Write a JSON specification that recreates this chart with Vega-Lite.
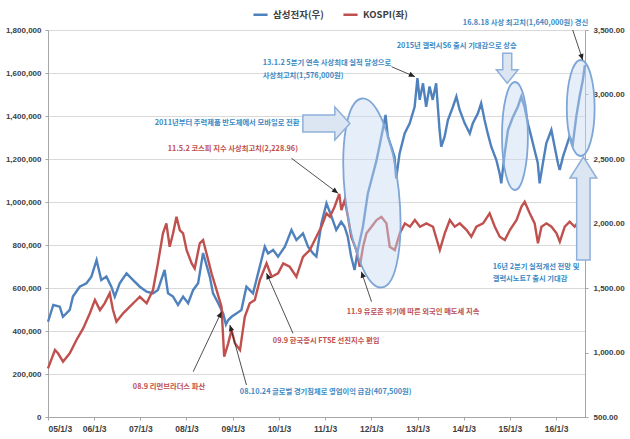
{
  "$schema": "https://vega.github.io/schema/vega-lite/v6.json",
  "width": 537,
  "height": 387,
  "autosize": {"type": "none"},
  "padding": {"left": 48, "top": 30, "right": 45, "bottom": 22},
  "background": "white",
  "config": {"view": {"stroke": null}, "font": "Noto Sans CJK KR"},
  "datasets": {
    "samsung": [
      {"date": "2005-01-03", "price": 443000}, {"date": "2005-02-14", "price": 521000}, {"date": "2005-04-06", "price": 513000},
      {"date": "2005-05-01", "price": 466000}, {"date": "2005-06-24", "price": 498000}, {"date": "2005-07-19", "price": 560000},
      {"date": "2005-09-11", "price": 606000}, {"date": "2005-11-03", "price": 622000}, {"date": "2005-12-12", "price": 653000},
      {"date": "2006-01-22", "price": 730000}, {"date": "2006-02-28", "price": 637000}, {"date": "2006-04-10", "price": 653000},
      {"date": "2006-05-19", "price": 606000}, {"date": "2006-06-15", "price": 560000}, {"date": "2006-07-24", "price": 622000},
      {"date": "2006-09-16", "price": 668000}, {"date": "2006-11-07", "price": 637000}, {"date": "2006-12-30", "price": 606000},
      {"date": "2007-02-22", "price": 583000}, {"date": "2007-04-13", "price": 575000}, {"date": "2007-05-22", "price": 591000},
      {"date": "2007-07-14", "price": 684000}, {"date": "2007-08-10", "price": 575000}, {"date": "2007-09-19", "price": 560000},
      {"date": "2007-10-28", "price": 521000}, {"date": "2007-12-07", "price": 560000}, {"date": "2008-01-16", "price": 529000},
      {"date": "2008-02-25", "price": 591000}, {"date": "2008-04-04", "price": 622000}, {"date": "2008-05-13", "price": 763000},
      {"date": "2008-07-05", "price": 653000}, {"date": "2008-07-31", "price": 575000}, {"date": "2008-09-10", "price": 529000},
      {"date": "2008-10-19", "price": 482000}, {"date": "2008-11-10", "price": 430000}, {"date": "2008-11-28", "price": 451000},
      {"date": "2008-12-24", "price": 466000}, {"date": "2009-02-03", "price": 482000}, {"date": "2009-03-12", "price": 498000},
      {"date": "2009-04-21", "price": 606000}, {"date": "2009-06-12", "price": 575000}, {"date": "2009-07-22", "price": 668000},
      {"date": "2009-09-13", "price": 792000}, {"date": "2009-10-09", "price": 761000}, {"date": "2009-11-18", "price": 777000},
      {"date": "2009-12-27", "price": 746000}, {"date": "2010-02-19", "price": 792000}, {"date": "2010-04-12", "price": 870000},
      {"date": "2010-05-21", "price": 823000}, {"date": "2010-07-12", "price": 854000}, {"date": "2010-08-21", "price": 792000},
      {"date": "2010-09-30", "price": 761000}, {"date": "2010-10-26", "price": 746000}, {"date": "2010-12-05", "price": 901000},
      {"date": "2011-01-14", "price": 994000}, {"date": "2011-02-23", "price": 932000}, {"date": "2011-04-01", "price": 870000},
      {"date": "2011-05-10", "price": 908000}, {"date": "2011-06-06", "price": 885000}, {"date": "2011-07-01", "price": 839000},
      {"date": "2011-07-28", "price": 746000}, {"date": "2011-08-24", "price": 684000}, {"date": "2011-09-19", "price": 777000},
      {"date": "2011-10-29", "price": 885000}, {"date": "2011-12-07", "price": 1040000}, {"date": "2012-01-03", "price": 1100000},
      {"date": "2012-02-12", "price": 1190000}, {"date": "2012-03-08", "price": 1260000}, {"date": "2012-04-04", "price": 1340000},
      {"date": "2012-04-25", "price": 1405000}, {"date": "2012-05-13", "price": 1304000}, {"date": "2012-06-09", "price": 1257000},
      {"date": "2012-07-05", "price": 1211000}, {"date": "2012-07-18", "price": 1110000}, {"date": "2012-08-14", "price": 1226000},
      {"date": "2012-09-23", "price": 1319000}, {"date": "2012-11-02", "price": 1366000}, {"date": "2012-12-11", "price": 1443000},
      {"date": "2013-01-02", "price": 1576000}, {"date": "2013-01-20", "price": 1475000}, {"date": "2013-02-15", "price": 1552000},
      {"date": "2013-03-12", "price": 1443000}, {"date": "2013-04-08", "price": 1537000}, {"date": "2013-05-03", "price": 1475000},
      {"date": "2013-05-30", "price": 1552000}, {"date": "2013-06-26", "price": 1335000}, {"date": "2013-07-09", "price": 1257000},
      {"date": "2013-08-05", "price": 1304000}, {"date": "2013-08-31", "price": 1381000}, {"date": "2013-10-10", "price": 1443000},
      {"date": "2013-11-06", "price": 1490000}, {"date": "2013-12-02", "price": 1428000}, {"date": "2014-01-11", "price": 1366000},
      {"date": "2014-02-20", "price": 1319000}, {"date": "2014-03-16", "price": 1366000}, {"date": "2014-04-25", "price": 1412000},
      {"date": "2014-05-21", "price": 1459000}, {"date": "2014-06-17", "price": 1381000}, {"date": "2014-07-12", "price": 1319000},
      {"date": "2014-08-09", "price": 1257000}, {"date": "2014-09-18", "price": 1195000}, {"date": "2014-10-14", "price": 1133000},
      {"date": "2014-10-27", "price": 1087000}, {"date": "2014-11-23", "price": 1226000}, {"date": "2014-12-19", "price": 1335000},
      {"date": "2015-01-28", "price": 1397000}, {"date": "2015-03-07", "price": 1443000}, {"date": "2015-04-03", "price": 1490000},
      {"date": "2015-04-29", "price": 1443000}, {"date": "2015-05-25", "price": 1366000}, {"date": "2015-06-21", "price": 1304000},
      {"date": "2015-07-17", "price": 1242000}, {"date": "2015-08-12", "price": 1180000}, {"date": "2015-08-26", "price": 1087000},
      {"date": "2015-09-21", "price": 1180000}, {"date": "2015-10-18", "price": 1273000}, {"date": "2015-11-27", "price": 1335000},
      {"date": "2015-12-23", "price": 1257000}, {"date": "2016-01-18", "price": 1180000}, {"date": "2016-02-01", "price": 1149000},
      {"date": "2016-02-27", "price": 1211000}, {"date": "2016-03-24", "price": 1257000}, {"date": "2016-04-19", "price": 1304000},
      {"date": "2016-05-15", "price": 1273000}, {"date": "2016-06-11", "price": 1397000}, {"date": "2016-07-07", "price": 1490000},
      {"date": "2016-08-02", "price": 1567000}, {"date": "2016-08-18", "price": 1637000}
    ],
    "kospi": [
      {"date": "2005-01-03", "kospi": 877}, {"date": "2005-02-27", "kospi": 1019}, {"date": "2005-03-23", "kospi": 994},
      {"date": "2005-05-02", "kospi": 929}, {"date": "2005-06-24", "kospi": 994}, {"date": "2005-08-16", "kospi": 1097},
      {"date": "2005-10-08", "kospi": 1187}, {"date": "2005-11-30", "kospi": 1304}, {"date": "2006-01-09", "kospi": 1407},
      {"date": "2006-02-18", "kospi": 1329}, {"date": "2006-03-27", "kospi": 1381}, {"date": "2006-05-06", "kospi": 1459},
      {"date": "2006-06-01", "kospi": 1329}, {"date": "2006-06-28", "kospi": 1239}, {"date": "2006-08-20", "kospi": 1304},
      {"date": "2006-10-12", "kospi": 1355}, {"date": "2006-12-04", "kospi": 1407}, {"date": "2006-12-30", "kospi": 1432},
      {"date": "2007-02-22", "kospi": 1381}, {"date": "2007-04-13", "kospi": 1484}, {"date": "2007-05-22", "kospi": 1691},
      {"date": "2007-07-01", "kospi": 1924}, {"date": "2007-07-28", "kospi": 2001}, {"date": "2007-08-23", "kospi": 1820},
      {"date": "2007-09-19", "kospi": 1924}, {"date": "2007-10-16", "kospi": 2052}, {"date": "2007-11-11", "kospi": 1949},
      {"date": "2007-12-07", "kospi": 1924}, {"date": "2008-01-04", "kospi": 1794}, {"date": "2008-02-13", "kospi": 1691},
      {"date": "2008-03-08", "kospi": 1652}, {"date": "2008-04-17", "kospi": 1846}, {"date": "2008-05-13", "kospi": 1872},
      {"date": "2008-06-09", "kospi": 1769}, {"date": "2008-07-19", "kospi": 1614}, {"date": "2008-08-28", "kospi": 1484},
      {"date": "2008-10-06", "kospi": 1355}, {"date": "2008-10-27", "kospi": 967}, {"date": "2008-11-28", "kospi": 1071},
      {"date": "2008-12-24", "kospi": 1174}, {"date": "2009-01-20", "kospi": 1071}, {"date": "2009-03-01", "kospi": 1019},
      {"date": "2009-04-08", "kospi": 1277}, {"date": "2009-05-17", "kospi": 1381}, {"date": "2009-06-26", "kospi": 1407},
      {"date": "2009-08-05", "kospi": 1562}, {"date": "2009-09-27", "kospi": 1691}, {"date": "2009-11-06", "kospi": 1587},
      {"date": "2009-12-27", "kospi": 1614}, {"date": "2010-02-06", "kospi": 1691}, {"date": "2010-03-29", "kospi": 1665},
      {"date": "2010-05-21", "kospi": 1587}, {"date": "2010-07-12", "kospi": 1742}, {"date": "2010-09-04", "kospi": 1794},
      {"date": "2010-10-26", "kospi": 1897}, {"date": "2010-12-05", "kospi": 1975}, {"date": "2011-01-14", "kospi": 2079},
      {"date": "2011-02-10", "kospi": 2052}, {"date": "2011-03-19", "kospi": 2130}, {"date": "2011-04-25", "kospi": 2229},
      {"date": "2011-05-12", "kospi": 2104}, {"date": "2011-06-07", "kospi": 2182}, {"date": "2011-07-03", "kospi": 2052},
      {"date": "2011-07-29", "kospi": 1897}, {"date": "2011-09-08", "kospi": 1794}, {"date": "2011-10-04", "kospi": 1665},
      {"date": "2011-10-30", "kospi": 1820}, {"date": "2011-11-26", "kospi": 1924}, {"date": "2012-01-05", "kospi": 1975},
      {"date": "2012-02-14", "kospi": 2027}, {"date": "2012-03-23", "kospi": 2052}, {"date": "2012-05-02", "kospi": 2001},
      {"date": "2012-05-28", "kospi": 1820}, {"date": "2012-07-07", "kospi": 1794}, {"date": "2012-08-16", "kospi": 1924},
      {"date": "2012-09-25", "kospi": 2001}, {"date": "2012-11-04", "kospi": 1975}, {"date": "2012-12-13", "kospi": 2027},
      {"date": "2013-01-22", "kospi": 1975}, {"date": "2013-03-14", "kospi": 2001}, {"date": "2013-05-05", "kospi": 1975},
      {"date": "2013-06-28", "kospi": 1794}, {"date": "2013-08-06", "kospi": 1924}, {"date": "2013-09-15", "kospi": 2027},
      {"date": "2013-10-24", "kospi": 1975}, {"date": "2013-12-03", "kospi": 2001}, {"date": "2014-01-26", "kospi": 1949},
      {"date": "2014-03-04", "kospi": 1897}, {"date": "2014-04-13", "kospi": 1975}, {"date": "2014-06-05", "kospi": 2001},
      {"date": "2014-07-27", "kospi": 2079}, {"date": "2014-09-06", "kospi": 1975}, {"date": "2014-10-15", "kospi": 1897},
      {"date": "2014-11-24", "kospi": 1872}, {"date": "2015-01-03", "kospi": 1949}, {"date": "2015-02-25", "kospi": 2027},
      {"date": "2015-04-04", "kospi": 2130}, {"date": "2015-04-30", "kospi": 2169}, {"date": "2015-06-09", "kospi": 2079},
      {"date": "2015-07-18", "kospi": 2001}, {"date": "2015-08-13", "kospi": 1846}, {"date": "2015-09-10", "kospi": 1975},
      {"date": "2015-10-19", "kospi": 2001}, {"date": "2015-11-28", "kospi": 1975}, {"date": "2016-01-07", "kospi": 1924},
      {"date": "2016-02-02", "kospi": 1859}, {"date": "2016-03-12", "kospi": 1975}, {"date": "2016-04-20", "kospi": 2014},
      {"date": "2016-05-29", "kospi": 1975}, {"date": "2016-07-08", "kospi": 2027}, {"date": "2016-08-18", "kospi": 2052}
    ],
    "notes": [
      {"label": "13.1.2 5분기 연속 사상최대 실적 달성으로", "date": "2009-08-28", "value": 1646500, "kind": "blue"},
      {"label": "사상최고치(1,576,000원)", "date": "2009-08-28", "value": 1586000, "kind": "blue"},
      {"label": "16.8.18 사상 최고치(1,640,000원) 경신", "date": "2013-12-27", "value": 1832600, "kind": "blue"},
      {"label": "2015년 갤럭시S6 출시 기대감으로 상승", "date": "2012-07-23", "value": 1725600, "kind": "blue"},
      {"label": "2011년부터 주력제품 반도체에서 모바일로 전환", "date": "2007-04-27", "value": 1367400, "kind": "blue"},
      {"label": "11.5.2 코스피 지수 사상최고치(2,228.96)", "date": "2007-08-08", "value": 1246500, "kind": "red"},
      {"label": "11.9 유로존 위기에 따른 외국인 매도세 지속", "date": "2011-06-23", "value": 488400, "kind": "red"},
      {"label": "09.9 한국증시 FTSE 선진지수 편입", "date": "2009-11-16", "value": 353500, "kind": "red"},
      {"label": "08.9 리먼브라더스 파산", "date": "2006-11-05", "value": 139500, "kind": "red"},
      {"label": "08.10.24 글로벌 경기침체로 영업이익 급감(407,500원)", "date": "2009-02-28", "value": 116300, "kind": "blue"},
      {"label": "16년 2분기 실적개선 전망 및", "date": "2014-08-20", "value": 697700, "kind": "blue"},
      {"label": "갤럭시노트7 출시 기대감", "date": "2014-08-20", "value": 641900, "kind": "blue"}
    ],
    "arrows": [
      {"id": 1, "date": "2012-06-11", "value": 1629300, "date2": "2012-12-13", "value2": 1582800},
      {"id": 2, "date": "2016-05-14", "value": 1800000, "date2": "2016-08-01", "value2": 1660500},
      {"id": 3, "date": "2010-04-12", "value": 1203300, "date2": "2011-04-15", "value2": 1040500},
      {"id": 4, "date": "2012-01-05", "value": 536300, "date2": "2011-10-17", "value2": 675800},
      {"id": 5, "date": "2010-04-24", "value": 389300, "date2": "2009-09-27", "value2": 668400},
      {"id": 6, "date": "2008-02-25", "value": 210700, "date2": "2008-10-06", "value2": 489800},
      {"id": 7, "date": "2009-04-21", "value": 148800, "date2": "2008-12-11", "value2": 427900}
    ],
    "shapes": [
      {"name": "e1", "date": "2012-01-08", "value": 1041900},
      {"name": "e2", "date": "2015-02-12", "value": 1307000},
      {"name": "e3", "date": "2016-07-16", "value": 1437200},
      {"name": "right", "date": "2011-01-13", "value": 1365100},
      {"name": "down", "date": "2014-12-13", "value": 1621900},
      {"name": "up", "date": "2016-08-06", "value": 969800}
    ]
  },
  "layer": [
    {
      "data": {"name": "samsung"},
      "mark": {"type": "line", "strokeWidth": 2.4},
      "encoding": {
        "x": {
          "field": "date", "type": "temporal",
          "scale": {"type": "utc", "domain": ["2005-01-03", "2016-08-19"], "nice": false},
          "axis": {
            "title": null, "grid": false,
            "labelExpr": "utcFormat(datum.value, '%y/%-m/%-d')",
            "values": ["2005-01-03", "2006-01-03", "2007-01-03", "2008-01-03", "2009-01-03", "2010-01-03", "2011-01-03", "2012-01-03", "2013-01-03", "2014-01-03", "2015-01-03", "2016-01-03"],
            "labelFont": "Liberation Sans", "labelFontSize": 8.5, "labelFontWeight": "bold", "labelColor": "#404040",
            "domainColor": "#a6a6a6", "tickColor": "#a6a6a6", "tickSize": 3, "labelPadding": 4
          }
        },
        "y": {
          "field": "price", "type": "quantitative",
          "scale": {"domain": [0, 1800000], "nice": false},
          "axis": {
            "title": null, "orient": "left", "format": ",d",
            "values": [0, 200000, 400000, 600000, 800000, 1000000, 1200000, 1400000, 1600000, 1800000],
            "grid": true, "gridColor": "#d9d9d9", "domainColor": "#a6a6a6", "tickColor": "#a6a6a6", "tickSize": 3,
            "labelPadding": 4, "labelFont": "Liberation Sans", "labelFontSize": 8, "labelFontWeight": "bold", "labelColor": "#404040"
          }
        },
        "color": {
          "datum": "삼성전자(우)", "type": "nominal",
          "scale": {"domain": ["삼성전자(우)", "KOSPI(좌)"], "range": ["#4f81bd", "#c0504d"]},
          "legend": {
            "title": null, "orient": "none", "legendX": 204, "legendY": -24, "direction": "horizontal",
            "symbolType": "stroke", "symbolSize": 200, "symbolStrokeWidth": 2.5, "labelFontSize": 9.5,
            "labelFontWeight": "bold", "labelColor": "#404040", "columnPadding": 14
          }
        }
      }
    },
    {
      "data": {"name": "kospi"},
      "mark": {"type": "line", "strokeWidth": 2.4},
      "encoding": {
        "x": {"field": "date", "type": "temporal"},
        "y": {
          "field": "kospi", "type": "quantitative",
          "scale": {"domain": [500, 3500], "nice": false},
          "axis": {
            "title": null, "orient": "right", "format": ",.2f", "grid": false,
            "values": [500, 1000, 1500, 2000, 2500, 3000, 3500],
            "domainColor": "#a6a6a6", "tickColor": "#a6a6a6", "tickSize": 3, "labelPadding": 5,
            "labelFont": "Liberation Sans", "labelFontSize": 8, "labelFontWeight": "bold", "labelColor": "#404040"
          }
        },
        "color": {"datum": "KOSPI(좌)", "type": "nominal"}
      }
    },
    {
      "layer": [
        {
          "data": {"name": "shapes"}, "transform": [{"filter": "datum.name == 'e1'"}],
          "mark": {"type": "point", "filled": true, "shape": "M0,-1 A0.284,1 0 1,1 0,1 A0.284,1 0 1,1 0,-1 Z", "size": 36100, "angle": -6, "fill": "#c6d9f1", "fillOpacity": 0.45, "stroke": "#7ea6d6", "strokeWidth": 1.8, "strokeOpacity": 1},
          "encoding": {
            "x": {"field": "date", "type": "temporal"},
            "y": {"field": "value", "type": "quantitative", "scale": {"domain": [0, 1800000], "nice": false}, "axis": null}
          }
        },
        {
          "data": {"name": "shapes"}, "transform": [{"filter": "datum.name == 'e2'"}],
          "mark": {"type": "point", "filled": true, "shape": "M0,-1 A0.24,1 0 1,1 0,1 A0.24,1 0 1,1 0,-1 Z", "size": 11664, "fill": "#c6d9f1", "fillOpacity": 0.45, "stroke": "#7ea6d6", "strokeWidth": 1.8, "strokeOpacity": 1},
          "encoding": {"x": {"field": "date", "type": "temporal"}, "y": {"field": "value", "type": "quantitative", "axis": null}}
        },
        {
          "data": {"name": "shapes"}, "transform": [{"filter": "datum.name == 'e3'"}],
          "mark": {"type": "point", "filled": true, "shape": "M0,-1 A0.29,1 0 1,1 0,1 A0.29,1 0 1,1 0,-1 Z", "size": 9216, "fill": "#c6d9f1", "fillOpacity": 0.45, "stroke": "#7ea6d6", "strokeWidth": 1.8, "strokeOpacity": 1},
          "encoding": {"x": {"field": "date", "type": "temporal"}, "y": {"field": "value", "type": "quantitative", "axis": null}}
        },
        {
          "data": {"name": "shapes"}, "transform": [{"filter": "datum.name == 'right'"}],
          "mark": {"type": "point", "filled": true, "shape": "M-1,-0.36 L0.36,-0.36 L0.36,-0.7 L1,0 L0.36,0.7 L0.36,0.36 L-1,0.36 Z", "size": 2209, "fill": "#dce6f2", "fillOpacity": 1, "stroke": "#8eb0da", "strokeWidth": 1.5, "strokeOpacity": 1},
          "encoding": {"x": {"field": "date", "type": "temporal"}, "y": {"field": "value", "type": "quantitative", "axis": null}}
        },
        {
          "data": {"name": "shapes"}, "transform": [{"filter": "datum.name == 'down'"}],
          "mark": {"type": "point", "filled": true, "shape": "M-0.3,-1 L0.3,-1 L0.3,0.1 L0.72,0.1 L0,1 L-0.72,0.1 L-0.3,0.1 Z", "size": 900, "fill": "#dce6f2", "fillOpacity": 1, "stroke": "#8eb0da", "strokeWidth": 1.5, "strokeOpacity": 1},
          "encoding": {"x": {"field": "date", "type": "temporal"}, "y": {"field": "value", "type": "quantitative", "axis": null}}
        },
        {
          "data": {"name": "shapes"}, "transform": [{"filter": "datum.name == 'up'"}],
          "mark": {"type": "point", "filled": true, "shape": "M0,-1 L0.26,-0.59 L0.13,-0.59 L0.13,1 L-0.13,1 L-0.13,-0.59 L-0.26,-0.59 Z", "size": 10609, "fill": "#dce6f2", "fillOpacity": 1, "stroke": "#8eb0da", "strokeWidth": 1.5, "strokeOpacity": 1},
          "encoding": {"x": {"field": "date", "type": "temporal"}, "y": {"field": "value", "type": "quantitative", "axis": null}}
        },
        {
          "data": {"name": "arrows"},
          "mark": {"type": "rule", "color": "#222222", "strokeWidth": 0.8},
          "encoding": {
            "x": {"field": "date", "type": "temporal"}, "y": {"field": "value", "type": "quantitative", "axis": null},
            "x2": {"field": "date2"}, "y2": {"field": "value2"}
          }
        },
        {
          "data": {"name": "arrows"}, "transform": [{"filter": "datum.id == 1"}],
          "mark": {"type": "point", "filled": true, "shape": "M0,0 L-0.45,1 L0.45,1 Z", "size": 144, "angle": 113, "color": "#222222", "opacity": 1},
          "encoding": {"x": {"field": "date2", "type": "temporal"}, "y": {"field": "value2", "type": "quantitative", "axis": null}}
        },
        {
          "data": {"name": "arrows"}, "transform": [{"filter": "datum.id == 2"}],
          "mark": {"type": "point", "filled": true, "shape": "M0,0 L-0.45,1 L0.45,1 Z", "size": 144, "angle": 162, "color": "#222222", "opacity": 1},
          "encoding": {"x": {"field": "date2", "type": "temporal"}, "y": {"field": "value2", "type": "quantitative", "axis": null}}
        },
        {
          "data": {"name": "arrows"}, "transform": [{"filter": "datum.id == 3"}],
          "mark": {"type": "point", "filled": true, "shape": "M0,0 L-0.45,1 L0.45,1 Z", "size": 144, "angle": 127, "color": "#222222", "opacity": 1},
          "encoding": {"x": {"field": "date2", "type": "temporal"}, "y": {"field": "value2", "type": "quantitative", "axis": null}}
        },
        {
          "data": {"name": "arrows"}, "transform": [{"filter": "datum.id == 4"}],
          "mark": {"type": "point", "filled": true, "shape": "M0,0 L-0.45,1 L0.45,1 Z", "size": 144, "angle": -18, "color": "#222222", "opacity": 1},
          "encoding": {"x": {"field": "date2", "type": "temporal"}, "y": {"field": "value2", "type": "quantitative", "axis": null}}
        },
        {
          "data": {"name": "arrows"}, "transform": [{"filter": "datum.id == 5"}],
          "mark": {"type": "point", "filled": true, "shape": "M0,0 L-0.45,1 L0.45,1 Z", "size": 144, "angle": -24, "color": "#222222", "opacity": 1},
          "encoding": {"x": {"field": "date2", "type": "temporal"}, "y": {"field": "value2", "type": "quantitative", "axis": null}}
        },
        {
          "data": {"name": "arrows"}, "transform": [{"filter": "datum.id == 6"}],
          "mark": {"type": "point", "filled": true, "shape": "M0,0 L-0.45,1 L0.45,1 Z", "size": 144, "angle": 25, "color": "#222222", "opacity": 1},
          "encoding": {"x": {"field": "date2", "type": "temporal"}, "y": {"field": "value2", "type": "quantitative", "axis": null}}
        },
        {
          "data": {"name": "arrows"}, "transform": [{"filter": "datum.id == 7"}],
          "mark": {"type": "point", "filled": true, "shape": "M0,0 L-0.45,1 L0.45,1 Z", "size": 144, "angle": -16, "color": "#222222", "opacity": 1},
          "encoding": {"x": {"field": "date2", "type": "temporal"}, "y": {"field": "value2", "type": "quantitative", "axis": null}}
        },
        {
          "data": {"name": "notes"}, "transform": [{"filter": "datum.kind == 'blue'"}],
          "mark": {"type": "text", "align": "left", "baseline": "middle", "fontSize": 7.3, "fontWeight": "bold", "color": "#3b8ac4"},
          "encoding": {
            "x": {"field": "date", "type": "temporal"}, "y": {"field": "value", "type": "quantitative", "axis": null},
            "text": {"field": "label"}
          }
        },
        {
          "data": {"name": "notes"}, "transform": [{"filter": "datum.kind == 'red'"}],
          "mark": {"type": "text", "align": "left", "baseline": "middle", "fontSize": 7.3, "fontWeight": "bold", "color": "#c0504d"},
          "encoding": {
            "x": {"field": "date", "type": "temporal"}, "y": {"field": "value", "type": "quantitative", "axis": null},
            "text": {"field": "label"}
          }
        }
      ]
    }
  ],
  "resolve": {"scale": {"y": "independent"}}
}
